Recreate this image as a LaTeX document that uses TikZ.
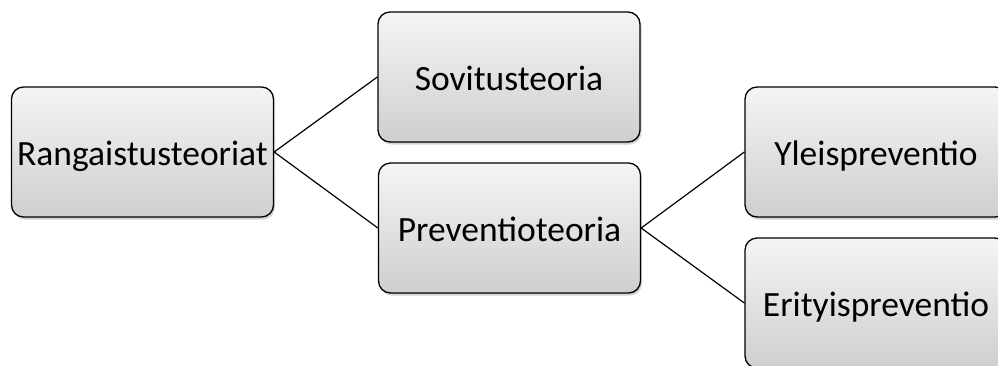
\documentclass[tikz,border=0pt]{standalone}
\usepackage{fontspec}
\setmainfont{Carlito}
\usetikzlibrary{shadows}
\tikzset{
  teoria/.style={draw, line width=1.3pt, rounded corners=12pt, inner sep=0pt,
    minimum width=262pt, minimum height=130pt, top color=gray!8, bottom color=gray!38,
    drop shadow={shadow xshift=1.5pt, shadow yshift=-2.5pt, opacity=0.35},
    text height=28pt, text depth=2pt,
    font=\fontsize{35.5}{41}\selectfont},
  haara/.style={line width=1.2pt}
}
\begin{document}
\begin{tikzpicture}[x=1pt, y=1pt, line join=round, line cap=round]
  \useasboundingbox (0,0) rectangle (998,-365);
  \node[teoria] (rangaistus) at (142.5,-152) {Rangaistusteoriat};
  \node[teoria] (sovitus) at (509,-77) {Sovitusteoria};
  \node[teoria] (preventio) at (509.5,-228) {Preventioteoria};
  \node[teoria] (yleis) at (876,-152) {Yleispreventio};
  \node[teoria] (erityis) at (876,-303) {Erityispreventio};
  \draw[haara] (rangaistus.east)--(sovitus.west);
  \draw[haara] (rangaistus.east)--(preventio.west);
  \draw[haara] (preventio.east)--(yleis.west);
  \draw[haara] (preventio.east)--(erityis.west);
\end{tikzpicture}
\end{document}
